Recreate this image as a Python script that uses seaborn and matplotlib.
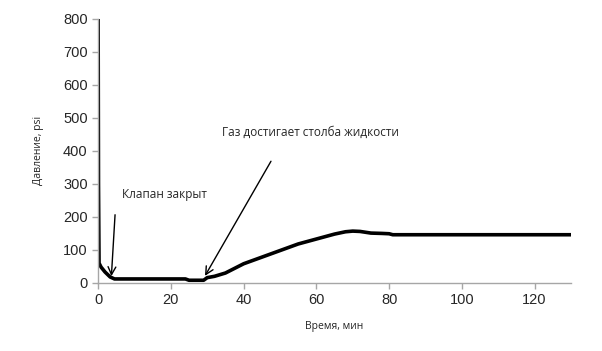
import pandas as pd
import matplotlib
matplotlib.use("Agg")
import matplotlib.pyplot as plt
import seaborn as sns

# данные
t_min = [0, 0.1, 0.25, 0.8, 1.9, 3.3, 4.5, 8, 12, 16, 20, 24, 25, 28, 29, 30, 32,
         35, 40, 45, 50, 55, 60, 65, 68, 70, 72, 75, 78, 80, 81, 90, 100, 110, 120, 130]
p_psi = [800, 300, 60, 48, 33, 18, 12, 12, 12, 12, 12, 12, 8, 8, 8, 16, 20,
         30, 58, 78, 98, 118, 133, 148, 155, 157, 156, 151, 150, 149, 146, 146, 146, 146, 146, 146]

df = pd.DataFrame({"t": t_min, "p": p_psi})

GRAY = "#a6a6a6"

sns.set_style("ticks")
plt.rcParams["font.family"] = ["Liberation Sans", "DejaVu Sans"]

fig = plt.figure(figsize=(6.02, 3.51), dpi=100)
ax = fig.add_axes([0.163, 0.194, 0.7855, 0.752])

sns.lineplot(data=df, x="t", y="p", color="black", linewidth=2.6, ax=ax)

ax.set_xlim(0, 130)
ax.set_ylim(0, 800)
ax.set_xticks(range(0, 121, 20))
ax.set_yticks(range(0, 801, 100))
ax.tick_params(axis="both", labelsize=10.5, color=GRAY, length=4, width=1, direction="out")

for s in ["top", "right"]:
    ax.spines[s].set_visible(False)
for s in ["left", "bottom"]:
    ax.spines[s].set_color(GRAY)
    ax.spines[s].set_linewidth(1)

ax.set_xlabel("Время, мин", fontsize=7.5, family=["Open Sans", "DejaVu Sans"], labelpad=10)
ax.set_ylabel("Давление, psi", fontsize=7.5, family=["Open Sans", "DejaVu Sans"], labelpad=14)

ax.annotate("", xy=(3.6, 12), xytext=(4.7, 215),
            arrowprops=dict(arrowstyle="->", color="black", lw=1, mutation_scale=14))
ax.text(6.6, 267, "Клапан закрыт", fontsize=8.5, va="center",
        family=["Open Sans", "DejaVu Sans"])

ax.annotate("", xy=(29.0, 14), xytext=(47.9, 376),
            arrowprops=dict(arrowstyle="->", color="black", lw=1, mutation_scale=14))
ax.text(34, 455, "Газ достигает столба жидкости", fontsize=8.5, va="center",
        family=["Open Sans", "DejaVu Sans"])

fig.savefig("out.png", dpi=100)
